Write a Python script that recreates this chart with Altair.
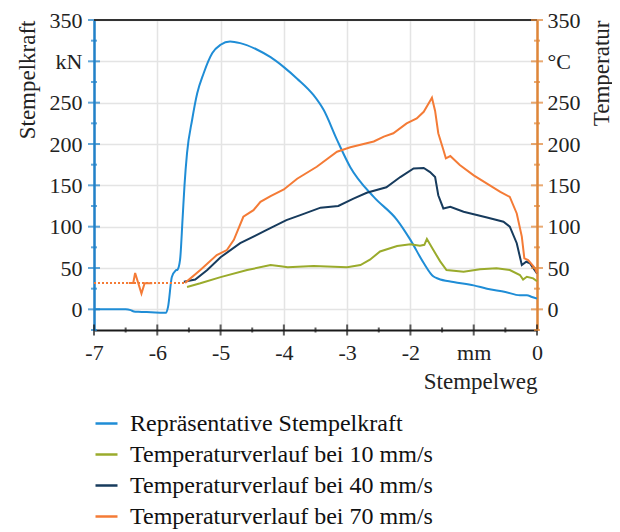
import altair as alt
import pandas as pd

# ---------------- data ----------------
series_names = [
    "Repräsentative Stempelkraft",
    "Temperaturverlauf bei 10 mm/s",
    "Temperaturverlauf bei 40 mm/s",
    "Temperaturverlauf bei 70 mm/s",
]
series_colors = ["#1f8dd6", "#9aab2c", "#173b5d", "#f47b36"]

force_x = [-7.0, -6.5, -6.42, -6.37, -6.3, -6.1, -5.9, -5.86, -5.83, -5.77, -5.71, -5.68,
           -5.64, -5.60, -5.57, -5.53, -5.45, -5.37, -5.27, -5.13, -5.0, -4.85, -4.69,
           -4.42, -4.21, -4.0, -3.79, -3.53, -3.37, -3.16, -2.95, -2.58, -2.21, -2.0,
           -1.79, -1.64, -1.56, -1.32, -1.0, -0.79, -0.5, -0.27, -0.16, -0.08, 0.0]
force_y = [0, 0, -1, -2.5, -3, -3.5, -4, -4, 3, 39, 47, 48,
           60, 110, 150, 189, 229, 261, 285, 310, 320, 324, 322,
           314, 305, 293, 279, 259, 241, 205, 172, 136, 108, 84,
           56, 40, 37, 33, 29, 25, 21, 17, 17, 15, 13]

t10_x = [-5.53, -5.32, -5.0, -4.58, -4.21, -4.05, -3.94, -3.53, -3.0, -2.79, -2.64, -2.48,
         -2.21, -2.0, -1.85, -1.78, -1.74, -1.64, -1.53, -1.43, -1.16, -0.90, -0.64, -0.43,
         -0.27, -0.22, -0.16, -0.06, 0.0]
t10_y = [27, 31.5, 39, 47.5, 53.6, 52, 51, 52.5, 51, 53.6, 60, 70,
         76.6, 78.6, 77, 78, 85, 72, 58, 47.5, 45.5, 48.4, 49.6, 47.5,
         41.5, 36, 39.4, 37.5, 34]

t40_x = [-5.58, -5.40, -5.21, -5.0, -4.69, -4.27, -3.96, -3.74, -3.42, -3.14, -2.90, -2.69,
         -2.38, -2.16, -1.95, -1.79, -1.69, -1.61, -1.56, -1.48, -1.37, -1.16, -0.79, -0.53,
         -0.43, -0.32, -0.24, -0.17, -0.11, 0.0]
t40_y = [33.4, 36, 47.5, 63, 80, 96, 108, 114, 123, 125, 134, 141,
         147.6, 160, 170.5, 171, 166, 160, 138, 122, 124, 118, 111, 106,
         100, 80, 53.6, 57.6, 55.6, 43.5]

t70_x = [-5.56, -5.32, -5.06, -4.90, -4.79, -4.64, -4.48, -4.37, -4.21, -4.0, -3.79, -3.48,
         -3.16, -2.95, -2.58, -2.42, -2.27, -2.06, -1.90, -1.79, -1.69, -1.66, -1.61, -1.56,
         -1.48, -1.44, -1.37, -1.22, -1.0, -0.79, -0.58, -0.43, -0.32, -0.24, -0.20, -0.14,
         -0.03, 0.0]
t70_y = [32, 47.5, 65.7, 71.7, 84, 112, 120, 130, 137, 145, 158, 172.5,
         190.6, 196, 203, 209, 213, 225, 231, 239, 252, 256, 240, 213,
         193, 182.6, 185.4, 174.5, 162, 152, 142, 136, 116, 88, 61.7, 59.6,
         49.6, 43.5]

t70_pre_x = [-6.45, -6.38, -6.35, -6.25, -6.2, -6.08]
t70_pre_y = [32, 32, 44, 19, 31.5, 31.5]

t70_dot_x = [-7.0, -5.56]
t70_dot_y = [32, 32]

y_major = [0, 50, 100, 150, 200, 250, 300, 350]
y_minor = [-25, 25, 75, 125, 175, 225, 275, 325]
x_major = [-7, -6, -5, -4, -3, -2, -1, 0]
x_minor = [-6.5, -5.5, -4.5, -3.5, -2.5, -1.5, -0.5]

# ---------------- tables ----------------
force_df = pd.DataFrame({"x": force_x, "y": force_y, "series": series_names[0]})
temp_df = pd.concat([
    pd.DataFrame({"x": t10_x, "y": t10_y, "series": series_names[1], "seg": "a"}),
    pd.DataFrame({"x": t40_x, "y": t40_y, "series": series_names[2], "seg": "b"}),
    pd.DataFrame({"x": t70_x, "y": t70_y, "series": series_names[3], "seg": "c"}),
    pd.DataFrame({"x": t70_pre_x, "y": t70_pre_y, "series": series_names[3], "seg": "d"}),
], ignore_index=True)
dot_df = pd.DataFrame({"x": t70_dot_x, "y": t70_dot_y})
ymaj_df = pd.DataFrame({"y": y_major})
ymin_df = pd.DataFrame({"y": y_minor})
xmaj_df = pd.DataFrame({"x": x_major})
xmin_df = pd.DataFrame({"x": x_minor})

# ---------------- styling ----------------
FONT = "Liberation Serif"
W, H = 443, 310
BLUE_AX = "#2181c9"
ORANGE_AX = "#df8638"
GRID = "#e4e4e4"

xscale = alt.Scale(domain=[-7, 0], nice=False, zero=False)
yscale = alt.Scale(domain=[-25, 350], nice=False, zero=False)

x_axis = alt.Axis(
    values=x_major, labelExpr="datum.value == -1 ? 'mm' : toString(datum.value)",
    ticks=False, domainColor="#1a1a1a", domainWidth=2,
    grid=True, gridColor=GRID, gridWidth=1.5,
    labelFont=FONT, labelFontSize=22, labelColor="#222", labelPadding=29,
    labelBaseline="alphabetic", labelFlush=False,
    title="Stempelweg", titleFont=FONT, titleFontSize=23, titleFontWeight="normal",
    titleColor="#222", titleAlign="right", titleAnchor="end", titleX=W, titleY=58,
    titleBaseline="alphabetic",
)
left_axis = alt.Axis(
    orient="left", values=y_major,
    labelExpr="datum.value == 300 ? 'kN' : datum.label",
    ticks=False, domainColor=BLUE_AX, domainWidth=2.5,
    grid=True, gridColor=GRID, gridWidth=1.5,
    labelFont=FONT, labelFontSize=22, labelColor="#222", labelPadding=12,
    labelFlush=False,
    title="Stempelkraft", titleFont=FONT, titleFontSize=23, titleFontWeight="normal",
    titleColor="#222", titleAngle=270, titleAlign="right", titleBaseline="alphabetic",
    titleX=-60, titleY=0,
)
right_axis = alt.Axis(
    orient="right", values=y_major,
    labelExpr="datum.value == 300 ? '°C' : datum.label",
    ticks=False, domainColor=ORANGE_AX, domainWidth=2.5, grid=False,
    labelFont=FONT, labelFontSize=22, labelColor="#222", labelPadding=10,
    labelFlush=False,
    title="Temperatur", titleFont=FONT, titleFontSize=23, titleFontWeight="normal",
    titleColor="#222", titleAngle=270, titleAlign="right", titleBaseline="alphabetic",
    titleX=71, titleY=0,
)

legend = alt.Legend(
    orient="none", legendX=0, legendY=391, direction="vertical", title=None,
    symbolType="stroke", symbolSize=484, symbolStrokeWidth=2.5,
    labelFont=FONT, labelFontSize=24, labelColor="#111", labelOffset=11,
    rowPadding=6, padding=0, labelLimit=400,
)
color = alt.Color("series:N", scale=alt.Scale(domain=series_names, range=series_colors),
                  legend=legend)

X = alt.X("x:Q", scale=xscale, axis=x_axis)
YL = alt.Y("y:Q", scale=yscale, axis=left_axis)
YR = alt.Y("y:Q", scale=yscale, axis=right_axis)

# ---------------- left (force) group ----------------
force_line = alt.Chart(force_df).mark_line(strokeWidth=2, interpolate="monotone").encode(
    x=X, y=YL, color=color)
lt_major = alt.Chart(ymaj_df).mark_tick(orient="horizontal", size=12, thickness=2,
                                        color=BLUE_AX).encode(x=alt.value(0), y=YL)
lt_minor = alt.Chart(ymin_df).mark_tick(orient="horizontal", size=6, thickness=2,
                                        color=BLUE_AX).encode(x=alt.value(0), y=YL)
xt_major = alt.Chart(xmaj_df).mark_tick(orient="vertical", size=11, thickness=2,
                                        color="#1a1a1a").encode(x=X, y=alt.value(H))
xt_minor = alt.Chart(xmin_df).mark_tick(orient="vertical", size=5, thickness=2,
                                        color="#1a1a1a").encode(x=X, y=alt.value(H))
top_rule = alt.Chart(ymaj_df).mark_rule(color="#333", strokeWidth=1.5).encode(
    x=alt.value(0), x2=alt.value(W), y=alt.value(0))

left = alt.layer(force_line, lt_major, lt_minor, xt_major, xt_minor, top_rule)

# ---------------- right (temperature) group ----------------
dot_line = alt.Chart(dot_df).mark_line(strokeWidth=2, strokeDash=[2, 2],
                                       color="#f47b36").encode(x=X, y=YR)
temp_lines = alt.Chart(temp_df).mark_line(strokeWidth=2).encode(
    x=X, y=YR, color=color, detail="seg:N")
rt_major = alt.Chart(ymaj_df).mark_tick(orient="horizontal", size=12, thickness=2,
                                        color=ORANGE_AX).encode(x=alt.value(W), y=YR)
rt_minor = alt.Chart(ymin_df).mark_tick(orient="horizontal", size=6, thickness=2,
                                        color=ORANGE_AX).encode(x=alt.value(W), y=YR)

right = alt.layer(dot_line, temp_lines, rt_major, rt_minor)

chart = alt.layer(left, right).resolve_scale(y="independent").properties(
    width=W, height=H,
    autosize=alt.AutoSizeParams(type="none"),
    padding={"left": 86, "top": 12, "right": 75, "bottom": 202},
).configure_view(stroke=None).configure(font=FONT).configure_axis(
    labelFont=FONT, titleFont=FONT
).configure_legend(labelFont=FONT)

chart.save("out.html", embed_options={"renderer": "svg", "actions": False})
